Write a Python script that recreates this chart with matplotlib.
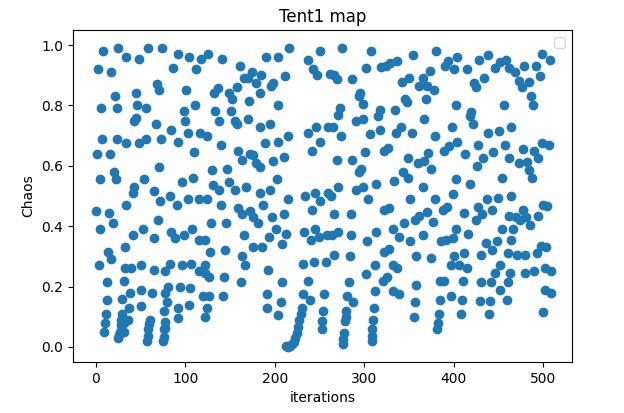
import matplotlib
matplotlib.use("Agg")
import matplotlib.pyplot as plt

# (iteration, chaos value) pairs, grouped by x-region
seg_a = [(0,0.45),(1,0.64),(2,0.92),(3.5,0.27),(4.5,0.555),(4.5,0.39),(6,0.79),(7,0.69),(8,0.98),
         (9.5,0.05),(10,0.08),(11,0.11),(12,0.155),(13,0.215),(14,0.315),(14.5,0.445),(16,0.64),
         (17,0.91),(17.5,0.29),(19,0.41),(20.5,0.58),(21,0.83),(22,0.555),(23.5,0.79),(23.5,0.69),
         (25,0.99),(25,0.03),(26,0.04),(27,0.05),(28,0.073),(28.5,0.09),(29,0.11),(29.5,0.16),
         (31,0.22),(32.5,0.26),(32,0.08),(32,0.05),(33,0.33),(34,0.47),(34,0.675),(34,0.96)]
seg_b = [(48,0.955),(58,0.99),(73.5,0.99),(68,0.87),(70.5,0.85),(44.5,0.84),(46.5,0.80),(55.5,0.79),
         (44.5,0.76),(43,0.75),(67,0.74),(48,0.674),(56.5,0.69),(73,0.69),(70.5,0.595),(54,0.555),
         (43,0.53),(41.5,0.51),(65,0.515),(71.5,0.485),(70,0.42),(53,0.39),(41,0.37),(65,0.36),
         (50.5,0.27),(39,0.26),(65,0.255),(77,0.25),(38,0.18),(50.5,0.19),(63,0.177),(77,0.177),
         (37,0.128),(36,0.09),(50.5,0.135),(60.5,0.09),(76.5,0.12),(58.5,0.06),(58,0.035),
         (57.5,0.02),(59.5,0.075),(76.4,0.06),(76,0.034),(75.5,0.02)]
seg_c = [(91.4,0.97),(104,0.96),(118,0.955),(86.5,0.925),(111.5,0.92),(100.5,0.85),(111,0.80),
         (98,0.78),(100,0.75),(84,0.72),(91.5,0.68),(103.5,0.71),(116.5,0.71),(110,0.647),
         (96.5,0.545),(109,0.56),(83,0.50),(90.5,0.47),(103,0.49),(115,0.49),(84,0.38),(89,0.36),
         (98,0.37),(108,0.39),(115,0.355),(122,0.355),(83,0.275),(96,0.27),(106,0.275),(115,0.25),
         (122,0.245),(81,0.2),(94,0.2),(105.5,0.195),(119.5,0.17),(79,0.15),(92,0.13),(104,0.14),
         (77,0.083),(77.5,0.062),(92,0.095),(122,0.1)]
seg_d = [(125,0.97),(141.3,0.955),(161,0.93),(165,0.89),(137,0.858),(131.5,0.84),(149,0.84),
         (152,0.82),(157.5,0.86),(133,0.78),(137.5,0.75),(151.5,0.78),(155,0.75),(158,0.74),
         (124,0.70),(140,0.67),(159,0.65),(163.5,0.62),(129.5,0.585),(146,0.59),(131,0.535),
         (137.5,0.52),(149,0.545),(155,0.52),(124,0.49),(140,0.47),(158.5,0.46),(163.5,0.44),
         (129,0.41),(145,0.41),(165,0.37),(127.5,0.315),(144,0.32),(163,0.30),(122,0.27),
         (126.5,0.23),(143.5,0.23),(162,0.215),(126,0.17),(142.5,0.17),(124,0.13)]
seg_e = [(216,0.99),(189.8,0.96),(204,0.96),(175,0.91),(184.5,0.90),(170,0.89),(179.5,0.875),
         (198,0.875),(211,0.896),(195.5,0.865),(183,0.84),(171,0.815),(203,0.80),(170,0.755),
         (183,0.73),(195,0.74),(215,0.70),(189,0.675),(204,0.68),(172,0.64),(175.5,0.635),
         (179.5,0.61),(183,0.595),(198,0.617),(210.5,0.63),(202,0.555),(168,0.53),(183,0.51),
         (194.5,0.52),(214.5,0.49),(187,0.47),(172.5,0.45),(176,0.43),(181,0.41),(197,0.43),
         (210.5,0.44),(201,0.39),(193.5,0.365),(212.5,0.375),(186,0.33),(176,0.33),(208.5,0.34),
         (192,0.255),(207.5,0.215),(191,0.175),(207,0.15),(191,0.128),(204,0.105),(166.5,0.27),
         (213,0.003),(215,0.0),(217,0.002),(219,0.008),(221,0.015),(223,0.03),(224.5,0.045),
         (226,0.065),(227.5,0.09),(229,0.11),(230.5,0.13),(231.5,0.175)]
seg_f = [(251,0.98),(275,0.99),(237,0.95),(242.5,0.92),(247.5,0.90),(262,0.905),(266.5,0.90),
         (270,0.887),(286.5,0.887),(272.5,0.79),(271,0.77),(236.5,0.71),(246.5,0.73),(259,0.73),
         (265.5,0.727),(274,0.70),(251,0.68),(241.5,0.65),(269,0.62),(286,0.62),(234,0.50),
         (245,0.51),(251,0.485),(259,0.51),(263,0.50),(270.5,0.53),(241,0.455),(266,0.44),
         (285,0.44),(233,0.38),(244.5,0.39),(240,0.355),(249,0.365),(258.5,0.37),(264,0.37),
         (270.5,0.38),(285,0.37),(266.5,0.305),(284,0.30),(231.5,0.275),(244,0.28),(257.5,0.28),
         (237,0.22),(283,0.215),(239,0.155),(255,0.175),(281,0.17),(254,0.12),(280,0.12),
         (253,0.087),(252.5,0.06),(278,0.085),(279,0.1),(277,0.045),(276.5,0.025),(276,0.01)]
seg_g = [(307.6,0.98),(302,0.925),(318.8,0.928),(324,0.93),(329,0.94),(336.6,0.946),(342,0.878),
         (293.5,0.83),(295,0.84),(298,0.805),(317,0.785),(315,0.765),(334.5,0.785),(345,0.82),
         (290.7,0.75),(299,0.755),(318,0.72),(306,0.705),(335.5,0.71),(341,0.73),(326,0.66),
         (322.5,0.65),(301,0.647),(296,0.59),(294,0.58),(343,0.58),(333.5,0.55),(313,0.54),
         (290.5,0.52),(299,0.53),(304,0.49),(322.5,0.455),(327,0.46),(344,0.41),(313,0.38),
         (303.5,0.35),(331.5,0.39),(339,0.365),(322.5,0.316),(327,0.325),(312,0.27),(302,0.24),
         (320.5,0.22),(325,0.23),(331.5,0.27),(337,0.26),(331.5,0.185),(339,0.175),(311.5,0.185),
         (287,0.15),(311,0.13),(310,0.09),(309,0.06),(308.5,0.035),(308,0.02)]
seg_h = [(380,0.98),(354,0.966),(393,0.947),(390,0.93),(400.5,0.92),(373.5,0.915),(404,0.96),
         (350,0.89),(365,0.89),(361,0.866),(370.5,0.865),(378,0.85),(348,0.81),(369,0.82),
         (402,0.80),(367,0.755),(353,0.71),(378.5,0.70),(398,0.727),(403,0.68),(395,0.667),
         (389,0.65),(349,0.625),(371.5,0.643),(360,0.61),(366.5,0.615),(374,0.59),(348.5,0.56),
         (402.5,0.555),(366,0.53),(351.5,0.49),(378.5,0.49),(398.5,0.505),(392,0.465),(388,0.455),
         (370.5,0.447),(361,0.433),(357,0.42),(376.5,0.415),(365,0.37),(402.5,0.39),(398.5,0.36),
         (351,0.35),(391.5,0.355),(386,0.35),(357.5,0.30),(374,0.295),(400.5,0.30),(397,0.27),
         (389.5,0.22),(384,0.218),(357.5,0.205),(397,0.17),(384.5,0.155),(356.5,0.15),
         (383.5,0.11),(356,0.10),(382,0.08),(381,0.06)]
seg_i = [(438,0.966),(428,0.95),(458,0.95),(452,0.944),(445.5,0.925),(414.5,0.92),(433.5,0.89),
         (422,0.876),(424.5,0.86),(461.5,0.925),(456,0.80),(419,0.777),(418.5,0.765),(421,0.74),
         (438,0.71),(450.5,0.716),(463.5,0.73),(427,0.67),(413,0.64),(457,0.67),(444,0.647),
         (433,0.625),(425.5,0.6),(461.5,0.625),(418,0.54),(454,0.56),(463.5,0.50),(437.5,0.49),
         (449.5,0.495),(427,0.465),(411.5,0.445),(432,0.44),(443,0.455),(424.5,0.42),
         (461.5,0.435),(454,0.39),(416,0.375),(435.5,0.345),(448,0.35),(443,0.32),(430.5,0.305),
         (463.5,0.355),(411.5,0.31),(461,0.31),(452,0.27),(405.5,0.27),(415,0.26),(445.5,0.245),
         (410.5,0.22),(430.5,0.215),(441,0.215),(460,0.215),(452,0.19),(409.5,0.155),
         (429.5,0.152),(440.5,0.152),(459,0.155),(408.5,0.11),(439.5,0.11)]
seg_j = [(499,0.97),(507,0.95),(478.5,0.93),(491.5,0.93),(468.7,0.91),(496,0.897),(472.5,0.88),
         (483.5,0.877),(476,0.86),(486,0.83),(488.5,0.80),(477.5,0.655),(490,0.65),(498.5,0.675),
         (506,0.67),(494.5,0.625),(472.5,0.61),(481.5,0.612),(484.5,0.585),(487,0.56),
         (499.5,0.47),(504.5,0.466),(477.5,0.455),(493.5,0.435),(469,0.43),(473.5,0.42),
         (481,0.43),(485.5,0.405),(466,0.39),(497.5,0.334),(503.5,0.33),(492.5,0.31),(470,0.305),
         (480,0.305),(479,0.245),(489.5,0.25),(502,0.26),(508,0.25),(502,0.19),(508,0.18),
         (499.5,0.115),(463,0.245)]

segments = [seg_a, seg_b, seg_c, seg_d, seg_e, seg_f, seg_g, seg_h, seg_i, seg_j]
iterations = [p[0] for s in segments for p in s]
chaos = [p[1] for s in segments for p in s]

fig = plt.figure(figsize=(6.24, 4.13), dpi=100)
ax = fig.add_axes([73/624, 51/413, 499/624, 332/413])
ax.scatter(iterations, chaos, color="#1f77b4")
ax.set_xlim(-25.5, 532)
ax.set_ylim(-0.05, 1.05)
ax.set_xticks([0, 100, 200, 300, 400, 500])
ax.set_yticks([0.0, 0.2, 0.4, 0.6, 0.8, 1.0])
ax.set_title("Tent1 map")
ax.set_xlabel("iterations")
ax.set_ylabel("Chaos")
ax.legend(loc="upper right")
fig.savefig("out.png", dpi=100)
